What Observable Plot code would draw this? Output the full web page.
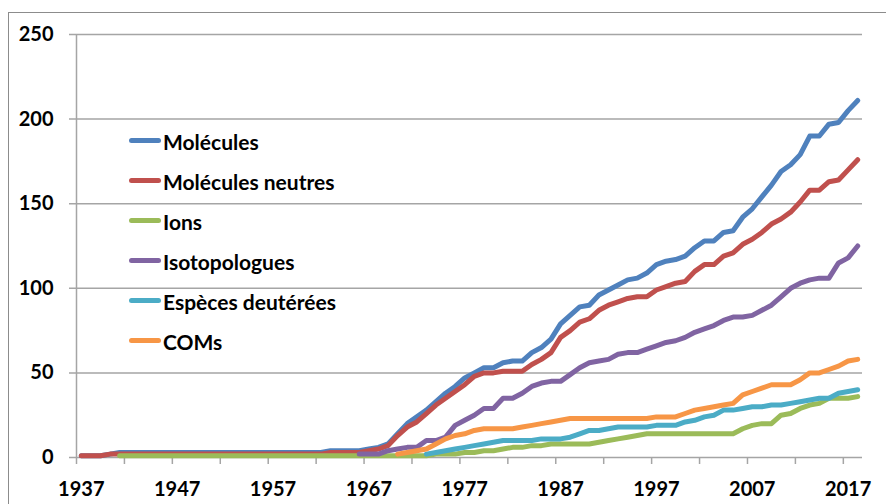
<!DOCTYPE html>
<html>
<head>
<meta charset="utf-8">
<script src="https://cdn.jsdelivr.net/npm/d3@7"></script>
<script src="https://cdn.jsdelivr.net/npm/@observablehq/plot@0.6"></script>
<style>
  html, body { margin: 0; padding: 0; background: #fff; overflow: hidden; }
  body { width: 886px; height: 504px; position: relative; font-family: Lato, "Open Sans", sans-serif; }
  #frame { position: absolute; left: 8px; top: 12px; width: 900px; height: 520px; border: 1px solid #8c8c8c; box-sizing: border-box; }
  #chart { position: absolute; left: 0; top: 0; }
  #legend { position: absolute; left: 129px; top: 132px; }
  .item { display: flex; align-items: flex-start; height: 40px; }
  .swatch { width: 32px; height: 5px; border-radius: 3px; margin-top: 6px; margin-right: 2px; }
  .label { font-size: 21px; line-height: 20px; font-weight: bold; color: #000; white-space: nowrap; }
</style>
</head>
<body>
<div id="frame"></div>
<div id="chart"></div>
<div id="legend"></div>
<script>
// Categories: one per year, 1937–2018
const firstYear = 1937;
const lastYear = 2018;
const years = d3.range(firstYear, lastYear + 1);

// Series values (null = not yet detected), one value per year 1937..2018
const molecules = [
  1,1,1,2,3,3,3,3,3,3,            // 1937-1946
  3,3,3,3,3,3,3,3,3,3,            // 1947-1956
  3,3,3,3,3,3,4,4,4,4,            // 1957-1966
  5,6,8,14,20,24,28,33,38,42,     // 1967-1976
  47,50,53,53,56,57,57,62,65,70,  // 1977-1986
  79,84,89,90,96,99,102,105,106,109,   // 1987-1996
  114,116,117,119,124,128,128,133,134,142, // 1997-2006
  147,154,161,169,173,179,190,190,197,198, // 2007-2016
  205,211                         // 2017-2018
];
const neutral = [
  1,1,1,2,2,2,2,2,2,2,
  2,2,2,2,2,2,2,2,2,2,
  2,2,2,2,2,2,3,3,3,3,
  4,5,7,13,18,21,26,31,35,39,
  43,48,50,50,51,51,51,55,58,62,
  71,75,80,82,87,90,92,94,95,95,
  99,101,103,104,110,114,114,119,121,126,
  129,133,138,141,145,151,158,158,163,164,
  170,176
];
const ions = [
  null,null,null,null,1,1,1,1,1,1,
  1,1,1,1,1,1,1,1,1,1,
  1,1,1,1,1,1,1,1,1,1,
  1,1,1,1,1,1,1,2,2,2,
  3,3,4,4,5,6,6,7,7,8,
  8,8,8,8,9,10,11,12,13,14,
  14,14,14,14,14,14,14,14,14,17,
  19,20,20,25,26,29,31,32,35,35,
  35,36
];
const isotopologues = [
  null,null,null,null,null,null,null,null,null,null,
  null,null,null,null,null,null,null,null,null,null,
  null,null,null,null,null,null,null,null,null,2,
  2,2,4,5,6,6,10,10,12,19,
  22,25,29,29,35,35,38,42,44,45,
  45,49,53,56,57,58,61,62,62,64,
  66,68,69,71,74,76,78,81,83,83,
  84,87,90,95,100,103,105,106,106,115,
  118,125
];
const deuterated = [
  null,null,null,null,null,null,null,null,null,null,
  null,null,null,null,null,null,null,null,null,null,
  null,null,null,null,null,null,null,null,null,null,
  null,null,null,null,null,null,2,3,4,5,
  6,7,8,9,10,10,10,10,11,11,
  11,12,14,16,16,17,18,18,18,18,
  19,19,19,21,22,24,25,28,28,29,
  30,30,31,31,32,33,34,35,35,38,
  39,40
];
const coms = [
  null,null,null,null,null,null,null,null,null,null,
  null,null,null,null,null,null,null,null,null,null,
  null,null,null,null,null,null,null,null,null,null,
  null,null,null,2,3,4,5,8,11,13,
  14,16,17,17,17,17,18,19,20,21,
  22,23,23,23,23,23,23,23,23,23,
  24,24,24,26,28,29,30,31,32,37,
  39,41,43,43,43,46,50,50,52,54,
  57,58
];

const seriesNames = ["Molécules", "Molécules neutres", "Ions", "Isotopologues", "Espèces deutérées", "COMs"];
const seriesColors = ["#4F81BD", "#C0504D", "#9BBB59", "#8064A2", "#4BACC6", "#F79646"];
const seriesValues = [molecules, neutral, ions, isotopologues, deuterated, coms];

// Axis ticks
const yTicks = [0, 50, 100, 150, 200, 250];
const xLabelYears = [1937, 1947, 1957, 1967, 1977, 1987, 1997, 2007, 2017];
const xTickBoundaries = d3.range(firstYear - 0.5, lastYear, 5); // category boundaries every 5 years

const rows = seriesNames.flatMap((name, s) =>
  years.map((year, i) => ({ year, value: seriesValues[s][i], series: name }))
).filter(d => d.value != null);

const grid = "#a5a5a5";

const chart = Plot.plot({
  width: 886,
  height: 504,
  marginLeft: 76,
  marginRight: 24,
  marginTop: 34,
  marginBottom: 47,
  style: { fontFamily: "Lato, 'Open Sans', sans-serif", fontSize: "20px", fontWeight: "bold", color: "#000", background: "transparent" },
  x: { domain: [firstYear - 0.5, lastYear + 0.5], axis: null, label: null },
  y: { domain: [0, 250], axis: null, label: null },
  color: { domain: seriesNames, range: seriesColors },
  marks: [
    Plot.ruleY(yTicks, { stroke: grid, strokeWidth: 1.5, insetLeft: -7 }),
    Plot.ruleX([firstYear - 0.5], { stroke: grid, strokeWidth: 1.5 }),
    Plot.axisX(xTickBoundaries, { tickSize: 7, tickFormat: () => "", stroke: grid, strokeWidth: 1.5, label: null }),
    Plot.axisX(xLabelYears, { tickSize: 0, tickPadding: 24, tickFormat: d => String(d), fill: "#000", label: null }),
    Plot.axisY(yTicks, { tickSize: 0, tickPadding: 23, tickFormat: d => String(d), fill: "#000", label: null }),
    Plot.line(rows, {
      x: "year", y: "value", z: "series", stroke: "series",
      strokeWidth: 5, strokeLinejoin: "round", strokeLinecap: "round"
    })
  ]
});
document.getElementById("chart").appendChild(chart);

// Legend (inside the plot area, as in the original)
const legend = document.getElementById("legend");
seriesNames.forEach((name, i) => {
  const item = document.createElement("div");
  item.className = "item";
  const sw = document.createElement("div");
  sw.className = "swatch";
  sw.style.background = seriesColors[i];
  const lb = document.createElement("div");
  lb.className = "label";
  lb.textContent = name;
  item.appendChild(sw);
  item.appendChild(lb);
  legend.appendChild(item);
});
</script>
</body>
</html>
